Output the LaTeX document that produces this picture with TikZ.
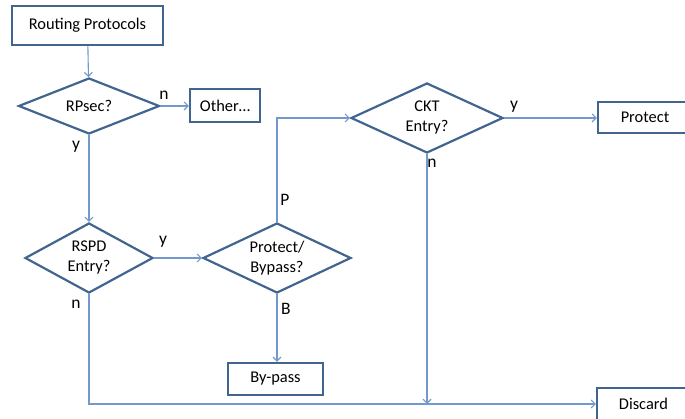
\documentclass[tikz,border=0pt]{standalone}
\usepackage{fontspec}
\setmainfont{Carlito}
\usetikzlibrary{shapes.geometric,arrows.meta}
\definecolor{boxline}{HTML}{41658F}
\definecolor{flow}{HTML}{7399CC}
\begin{document}
\begin{tikzpicture}[x=1pt,y=-1pt,
  every node/.style={font=\fontsize{16.4}{20}\selectfont},
  procbox/.style={rectangle,draw=boxline,line width=2.4pt,inner sep=0pt},
  decision/.style={diamond,draw=boxline,line width=2.2pt,inner sep=0pt,aspect=2,align=center},
  flowline/.style={draw=flow,line width=1.1pt,-{Straight Barb[length=4pt,width=8pt]}},
  lbl/.style={inner sep=0pt,font=\fontsize{17.5}{18}\selectfont}]
\useasboundingbox (0,0) rectangle (685,419);
\clip (0,0) rectangle (685,419);

% process boxes
\node[procbox,minimum width=151pt,minimum height=39pt] (rp) at (87.5,25.5) {Routing Protocols};
\node[procbox,minimum width=70pt,minimum height=33pt] (other) at (225,105.5) {Other\ldots};
\node[procbox,minimum width=95pt,minimum height=32pt] (bypass) at (275.5,379) {By-pass};
\node[procbox,minimum width=94pt,minimum height=31pt] (protect) at (645,117.5) {Protect};
\node[procbox,minimum width=93pt,minimum height=32pt] (discard) at (643.5,404) {Discard};

% decisions
\node[decision,minimum width=141pt,minimum height=56pt] (rpsec) at (89,106) {RPsec?};
\node[decision,minimum width=128pt,minimum height=70pt] (rspd) at (89,258) {RSPD\\Entry?};
\node[decision,minimum width=148pt,minimum height=70pt] (pb) at (277,258) {Protect/\\Bypass?};
\node[decision,minimum width=152pt,minimum height=70pt] (ckt) at (427,118) {CKT\\Entry?};

% connectors
\draw[flowline] (rp) -- (rpsec);
\draw[flowline] (rpsec.east) -- (rpsec.east -| other.west);
\draw[flowline] (rpsec) -- (rspd);
\draw[flowline] (rspd.east) -- (pb.west);
\draw[flowline] (pb.south) -- (pb.south |- bypass.north);
\draw[flowline] (pb.north) |- (ckt.west);
\draw[flowline] (ckt.east) -- (ckt.east -| protect.west);
\draw[flowline] (rspd.south) |- (discard.west);
\draw[flowline] (ckt.south) -- (ckt.south |- discard.west);

% branch labels
\node[lbl] (l1) at (164,95) {n};
\node[lbl] (l2) at (76,147) {y};
\node[lbl] (l3) at (163,242) {y};
\node[lbl] (l4) at (76,304) {n};
\node[lbl] (l5) at (286,309) {B};
\node[lbl] (l6) at (285,200) {P};
\node[lbl] (l7) at (514,107) {y};
\node[lbl] (l8) at (432,163) {n};
\end{tikzpicture}
\end{document}
